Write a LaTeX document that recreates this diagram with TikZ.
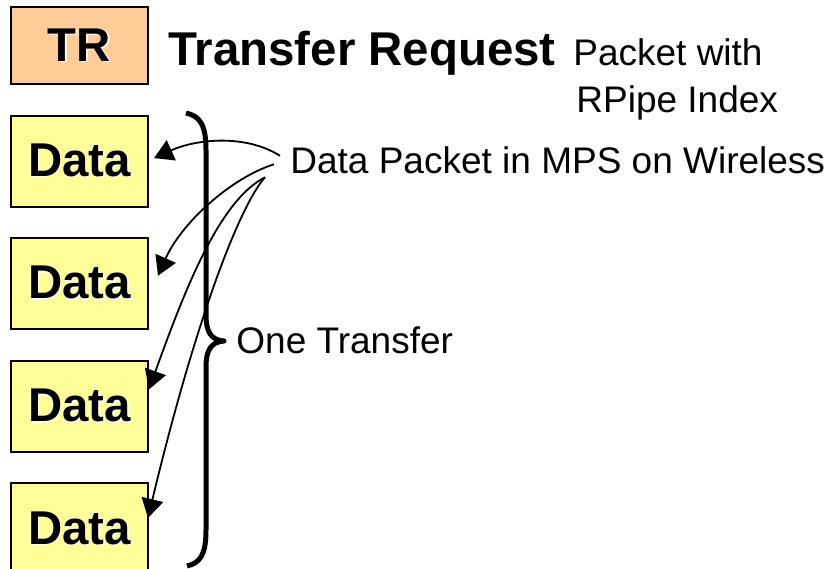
\documentclass[tikz,border=0pt]{standalone}
\usepackage{fontspec}
\setmainfont{Liberation Sans}
\usetikzlibrary{positioning,arrows.meta}
\definecolor{trfill}{HTML}{FFCC99}
\definecolor{datafill}{HTML}{FFFF99}
\newcommand\shtext[1]{\rlap{\hspace{0.8pt}\raisebox{-0.8pt}{\color{white}#1}}#1}

\begin{document}
\begin{tikzpicture}[
			x=0.5pt, y=-0.5pt
			,box/.style={draw, line width=1pt, inner sep=0pt, minimum width=68.5pt, font=\fontsize{23.7}{28}\selectfont\bfseries}
			,tr/.style={box, fill=trfill, minimum height=38.5pt}
			,d/.style={box, fill=datafill, minimum height=45.5pt}
			,lbl/.style={inner sep=0pt, anchor=base west, font=\fontsize{18.5}{22}\selectfont}
			,pkt/.style={-{Triangle[length=9.5pt,width=11pt]}, line width=0.9pt}
			,node distance=14.8pt
		]
			\useasboundingbox (0,0) rectangle (830,568);
			\node [tr] (TR) at (79.5,45.5) {\shtext{TR}};
			\node [d, below=of TR] (D1) {\shtext{Data}};
			\node [d, below=of D1] (D2) {\shtext{Data}};
			\node [d, below=of D2] (D3) {\shtext{Data}};
			\node [d, below=of D3] (D4) {\shtext{Data}};

			\node [lbl, font=\fontsize{23.7}{28}\selectfont\bfseries] (TRtxt) at (168,65) {Transfer Request};
			\node [lbl] (PW) at (573,65) {Packet with};
			\node [lbl] (RI) at (576,112) {RPipe Index};
			\node [lbl] (DP) at (290,173) {Data Packet in MPS on Wireless};
			\node [lbl] (OT) at (236,353) {One Transfer};

			\draw [pkt] ([shift={(-10,-4)}]DP.west) .. controls +(-35,-22) and +(42,-19) .. ([shift={(5,-3)}]D1.east);
			\draw [pkt] ([shift={(-16,4.5)}]DP.west) .. controls +(-44,14) and +(23,-52) .. ([shift={(9,-8)}]D2.east);
			\draw [pkt] ([shift={(-25,17.5)}]DP.west) .. controls +(-45,23) and +(37,-103) .. ([shift={(0,-17)}]D3.east);
			\draw [pkt] ([shift={(-25,17.5)}]DP.west) .. controls +(-25,28) and +(48,-200) .. ([shift={(-1,-11)}]D4.east);

			% brace
			\draw [line width=2.5pt, line join=round] (186,113) .. controls (200,116) and (206,125) .. (206,150) -- (206,315)
				.. controls (206,332) and (211,340) .. (224,341) .. controls (211,342) and (206,350) .. (206,367)
				-- (206,530) .. controls (206,555) and (200,563) .. (187,566);
		\end{tikzpicture}
\end{document}
